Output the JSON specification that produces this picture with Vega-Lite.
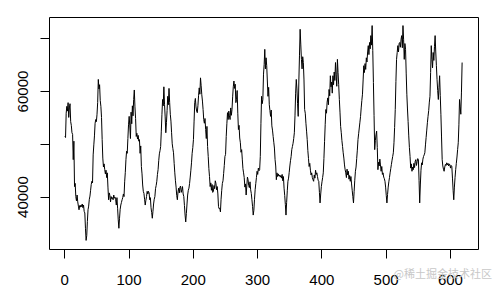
{
  "$schema": "https://vega.github.io/schema/vega-lite/v6.json",
  "width": 429,
  "height": 232,
  "autosize": {"type": "none"},
  "padding": {"left": 49, "top": 17, "right": 19, "bottom": 43},
  "background": "white",
  "config": {
    "view": {"stroke": "#000", "strokeWidth": 1},
    "axis": {"labelFont": "Liberation Sans", "labelFontSize": 15, "labelColor": "#000", "tickColor": "#000", "grid": false, "domain": false, "tickSize": 9, "tickWidth": 1, "title": null}
  },
  "title": {"text": "@稀土掘金技术社区", "orient": "bottom", "anchor": "end", "font": "Noto Sans CJK SC", "fontSize": 11, "fontWeight": "normal", "color": "#c8c8c8", "frame": "group", "dx": 14, "dy": -22},
  "data": {"values": [
{"t":1,"v":51400},{"t":2,"v":51200},{"t":3,"v":55800},{"t":4,"v":57100},{"t":5,"v":56200},{"t":6,"v":57800},{"t":7,"v":55000},{"t":8,"v":56800},{"t":9,"v":57600},{"t":10,"v":54200},
{"t":11,"v":53500},{"t":12,"v":52100},{"t":13,"v":51800},{"t":14,"v":47000},{"t":15,"v":50500},{"t":16,"v":41900},{"t":17,"v":42500},{"t":18,"v":40000},{"t":19,"v":39200},{"t":20,"v":40300},
{"t":21,"v":39000},{"t":22,"v":38200},{"t":23,"v":37500},{"t":24,"v":38300},{"t":25,"v":38000},{"t":26,"v":38400},{"t":27,"v":38100},{"t":28,"v":38600},{"t":29,"v":37900},{"t":30,"v":38400},
{"t":31,"v":37200},{"t":32,"v":36900},{"t":33,"v":34000},{"t":34,"v":31700},{"t":35,"v":32600},{"t":36,"v":35300},{"t":37,"v":37500},{"t":38,"v":38200},{"t":39,"v":39500},{"t":40,"v":40100},
{"t":41,"v":41200},{"t":42,"v":42300},{"t":43,"v":42900},{"t":44,"v":42600},{"t":45,"v":47900},{"t":46,"v":49800},{"t":47,"v":51500},{"t":48,"v":53900},{"t":49,"v":54600},{"t":50,"v":54200},
{"t":51,"v":55600},{"t":52,"v":57800},{"t":53,"v":62200},{"t":54,"v":60400},{"t":55,"v":61200},{"t":56,"v":58200},{"t":57,"v":57100},{"t":58,"v":55000},{"t":59,"v":50800},{"t":60,"v":47300},
{"t":61,"v":45600},{"t":62,"v":46200},{"t":63,"v":45100},{"t":64,"v":44300},{"t":65,"v":45000},{"t":66,"v":43600},{"t":67,"v":44500},{"t":68,"v":41800},{"t":69,"v":39400},{"t":70,"v":40700},
{"t":71,"v":40200},{"t":72,"v":39000},{"t":73,"v":40000},{"t":74,"v":39600},{"t":75,"v":39800},{"t":76,"v":39400},{"t":77,"v":40300},{"t":78,"v":39700},{"t":79,"v":39900},{"t":80,"v":39400},
{"t":81,"v":38400},{"t":82,"v":39800},{"t":83,"v":37800},{"t":84,"v":35600},{"t":85,"v":34000},{"t":86,"v":35900},{"t":87,"v":37600},{"t":88,"v":38400},{"t":89,"v":38900},{"t":90,"v":39400},
{"t":91,"v":39800},{"t":92,"v":40500},{"t":93,"v":40000},{"t":94,"v":42800},{"t":95,"v":44600},{"t":96,"v":47000},{"t":97,"v":48600},{"t":98,"v":48200},{"t":99,"v":51000},{"t":100,"v":53600},
{"t":101,"v":55200},{"t":102,"v":53400},{"t":103,"v":51000},{"t":104,"v":56000},{"t":105,"v":53800},{"t":106,"v":57200},{"t":107,"v":55300},{"t":108,"v":58400},{"t":109,"v":60200},{"t":110,"v":57000},
{"t":111,"v":54800},{"t":112,"v":51400},{"t":113,"v":52000},{"t":114,"v":50900},{"t":115,"v":51600},{"t":116,"v":50500},{"t":117,"v":50800},{"t":118,"v":48200},{"t":119,"v":49600},{"t":120,"v":45700},
{"t":121,"v":44300},{"t":122,"v":42200},{"t":123,"v":41000},{"t":124,"v":40600},{"t":125,"v":39500},{"t":126,"v":38400},{"t":127,"v":39300},{"t":128,"v":40000},{"t":129,"v":41000},{"t":130,"v":40500},
{"t":131,"v":41000},{"t":132,"v":40700},{"t":133,"v":39400},{"t":134,"v":39800},{"t":135,"v":37900},{"t":136,"v":37000},{"t":137,"v":35900},{"t":138,"v":37200},{"t":139,"v":38600},{"t":140,"v":39500},
{"t":141,"v":40000},{"t":142,"v":41500},{"t":143,"v":42100},{"t":144,"v":42900},{"t":145,"v":44200},{"t":146,"v":45100},{"t":147,"v":46800},{"t":148,"v":48100},{"t":149,"v":48700},{"t":150,"v":49500},
{"t":151,"v":52400},{"t":152,"v":55600},{"t":153,"v":58400},{"t":154,"v":57200},{"t":155,"v":60800},{"t":156,"v":57500},{"t":157,"v":55100},{"t":158,"v":52100},{"t":159,"v":54000},{"t":160,"v":56300},
{"t":161,"v":59000},{"t":162,"v":57400},{"t":163,"v":60500},{"t":164,"v":57800},{"t":165,"v":55600},{"t":166,"v":54300},{"t":167,"v":52100},{"t":168,"v":50000},{"t":169,"v":49100},{"t":170,"v":48300},
{"t":171,"v":46300},{"t":172,"v":44500},{"t":173,"v":43000},{"t":174,"v":41800},{"t":175,"v":40200},{"t":176,"v":39400},{"t":177,"v":40900},{"t":178,"v":41600},{"t":179,"v":40700},{"t":180,"v":41800},
{"t":181,"v":42000},{"t":182,"v":40800},{"t":183,"v":41300},{"t":184,"v":41900},{"t":185,"v":40500},{"t":186,"v":40000},{"t":187,"v":38300},{"t":188,"v":36500},{"t":189,"v":35200},{"t":190,"v":36800},
{"t":191,"v":38600},{"t":192,"v":40300},{"t":193,"v":41200},{"t":194,"v":41600},{"t":195,"v":42500},{"t":196,"v":43700},{"t":197,"v":45000},{"t":198,"v":46400},{"t":199,"v":48200},{"t":200,"v":49300},
{"t":201,"v":50800},{"t":202,"v":54300},{"t":203,"v":57800},{"t":204,"v":58600},{"t":205,"v":57000},{"t":206,"v":56200},{"t":207,"v":55900},{"t":208,"v":57300},{"t":209,"v":59200},{"t":210,"v":60600},
{"t":211,"v":59400},{"t":212,"v":62500},{"t":213,"v":61000},{"t":214,"v":59300},{"t":215,"v":58100},{"t":216,"v":56500},{"t":217,"v":54600},{"t":218,"v":53900},{"t":219,"v":54800},{"t":220,"v":52700},
{"t":221,"v":51000},{"t":222,"v":53300},{"t":223,"v":49500},{"t":224,"v":47600},{"t":225,"v":45300},{"t":226,"v":43800},{"t":227,"v":41900},{"t":228,"v":42600},{"t":229,"v":41200},{"t":230,"v":42300},
{"t":231,"v":40800},{"t":232,"v":41000},{"t":233,"v":42100},{"t":234,"v":41500},{"t":235,"v":43000},{"t":236,"v":42500},{"t":237,"v":41300},{"t":238,"v":41900},{"t":239,"v":40500},{"t":240,"v":38100},
{"t":241,"v":37700},{"t":242,"v":37800},{"t":243,"v":37100},{"t":244,"v":39500},{"t":245,"v":41200},{"t":246,"v":42500},{"t":247,"v":43000},{"t":248,"v":44400},{"t":249,"v":45900},{"t":250,"v":47600},
{"t":251,"v":48000},{"t":252,"v":51400},{"t":253,"v":53800},{"t":254,"v":55900},{"t":255,"v":54600},{"t":256,"v":56200},{"t":257,"v":55300},{"t":258,"v":54600},{"t":259,"v":56800},{"t":260,"v":55400},
{"t":261,"v":56500},{"t":262,"v":58900},{"t":263,"v":60800},{"t":264,"v":61900},{"t":265,"v":60500},{"t":266,"v":61300},{"t":267,"v":57800},{"t":268,"v":58400},{"t":269,"v":60100},{"t":270,"v":55800},
{"t":271,"v":52700},{"t":272,"v":53500},{"t":273,"v":51100},{"t":274,"v":50200},{"t":275,"v":48400},{"t":276,"v":48900},{"t":277,"v":47100},{"t":278,"v":45300},{"t":279,"v":44500},{"t":280,"v":43600},
{"t":281,"v":41800},{"t":282,"v":42400},{"t":283,"v":40300},{"t":284,"v":42000},{"t":285,"v":43700},{"t":286,"v":43200},{"t":287,"v":42100},{"t":288,"v":41700},{"t":289,"v":42800},{"t":290,"v":41300},
{"t":291,"v":40600},{"t":292,"v":39400},{"t":293,"v":38100},{"t":294,"v":36500},{"t":295,"v":37400},{"t":296,"v":39500},{"t":297,"v":41300},{"t":298,"v":42500},{"t":299,"v":43600},{"t":300,"v":44800},
{"t":301,"v":44200},{"t":302,"v":45400},{"t":303,"v":44900},{"t":304,"v":45100},{"t":305,"v":47600},{"t":306,"v":53800},{"t":307,"v":59000},{"t":308,"v":57600},{"t":309,"v":58400},{"t":310,"v":63200},
{"t":311,"v":65000},{"t":312,"v":67900},{"t":313,"v":64200},{"t":314,"v":66300},{"t":315,"v":64800},{"t":316,"v":61900},{"t":317,"v":59000},{"t":318,"v":60700},{"t":319,"v":57400},{"t":320,"v":56300},
{"t":321,"v":55200},{"t":322,"v":56400},{"t":323,"v":53400},{"t":324,"v":52600},{"t":325,"v":51400},{"t":326,"v":50300},{"t":327,"v":49200},{"t":328,"v":47000},{"t":329,"v":45800},{"t":330,"v":43200},
{"t":331,"v":44500},{"t":332,"v":43800},{"t":333,"v":44300},{"t":334,"v":43900},{"t":335,"v":44100},{"t":336,"v":43700},{"t":337,"v":44000},{"t":338,"v":43500},{"t":339,"v":44200},{"t":340,"v":43000},
{"t":341,"v":43800},{"t":342,"v":41600},{"t":343,"v":40200},{"t":344,"v":38500},{"t":345,"v":36500},{"t":346,"v":38900},{"t":347,"v":41100},{"t":348,"v":42900},{"t":349,"v":43500},{"t":350,"v":44600},
{"t":351,"v":45800},{"t":352,"v":46800},{"t":353,"v":47600},{"t":354,"v":48900},{"t":355,"v":49500},{"t":356,"v":50100},{"t":357,"v":51000},{"t":358,"v":52100},{"t":359,"v":55300},{"t":360,"v":59600},
{"t":361,"v":62200},{"t":362,"v":60400},{"t":363,"v":57600},{"t":364,"v":55200},{"t":365,"v":61900},{"t":366,"v":66800},{"t":367,"v":71700},{"t":368,"v":68900},{"t":369,"v":66000},{"t":370,"v":64200},
{"t":371,"v":66500},{"t":372,"v":65400},{"t":373,"v":62100},{"t":374,"v":56500},{"t":375,"v":55800},{"t":376,"v":53900},{"t":377,"v":52400},{"t":378,"v":50800},{"t":379,"v":48700},{"t":380,"v":47200},
{"t":381,"v":45700},{"t":382,"v":46300},{"t":383,"v":45000},{"t":384,"v":44100},{"t":385,"v":44500},{"t":386,"v":43600},{"t":387,"v":43200},{"t":388,"v":42900},{"t":389,"v":44100},{"t":390,"v":43500},
{"t":391,"v":45000},{"t":392,"v":44200},{"t":393,"v":44500},{"t":394,"v":43800},{"t":395,"v":43100},{"t":396,"v":42900},{"t":397,"v":40800},{"t":398,"v":38800},{"t":399,"v":40500},{"t":400,"v":41900},
{"t":401,"v":42800},{"t":402,"v":43600},{"t":403,"v":44500},{"t":404,"v":47200},{"t":405,"v":50400},{"t":406,"v":53700},{"t":407,"v":56500},{"t":408,"v":55800},{"t":409,"v":57900},{"t":410,"v":58700},
{"t":411,"v":57400},{"t":412,"v":60300},{"t":413,"v":59100},{"t":414,"v":62900},{"t":415,"v":60800},{"t":416,"v":61700},{"t":417,"v":59600},{"t":418,"v":62900},{"t":419,"v":61200},{"t":420,"v":63600},
{"t":421,"v":62000},{"t":422,"v":65400},{"t":423,"v":63100},{"t":424,"v":60900},{"t":425,"v":66000},{"t":426,"v":63500},{"t":427,"v":61200},{"t":428,"v":58400},{"t":429,"v":56000},{"t":430,"v":53300},
{"t":431,"v":52100},{"t":432,"v":50600},{"t":433,"v":49500},{"t":434,"v":48300},{"t":435,"v":47300},{"t":436,"v":46000},{"t":437,"v":45100},{"t":438,"v":44500},{"t":439,"v":43600},{"t":440,"v":45200},
{"t":441,"v":44100},{"t":442,"v":44800},{"t":443,"v":43300},{"t":444,"v":44000},{"t":445,"v":42900},{"t":446,"v":43800},{"t":447,"v":42400},{"t":448,"v":41200},{"t":449,"v":40000},{"t":450,"v":38800},
{"t":451,"v":41000},{"t":452,"v":43100},{"t":453,"v":44800},{"t":454,"v":45600},{"t":455,"v":47200},{"t":456,"v":48800},{"t":457,"v":50800},{"t":458,"v":51900},{"t":459,"v":53000},{"t":460,"v":54100},
{"t":461,"v":55200},{"t":462,"v":56800},{"t":463,"v":58200},{"t":464,"v":59400},{"t":465,"v":62100},{"t":466,"v":64800},{"t":467,"v":63500},{"t":468,"v":65200},{"t":469,"v":64100},{"t":470,"v":66300},
{"t":471,"v":65500},{"t":472,"v":67400},{"t":473,"v":68600},{"t":474,"v":66900},{"t":475,"v":69200},{"t":476,"v":68000},{"t":477,"v":70500},{"t":478,"v":68700},{"t":479,"v":72400},{"t":480,"v":67700},
{"t":481,"v":61600},{"t":482,"v":55400},{"t":483,"v":48900},{"t":484,"v":50600},{"t":485,"v":51700},{"t":486,"v":52400},{"t":487,"v":49300},{"t":488,"v":45100},{"t":489,"v":46500},{"t":490,"v":45800},
{"t":491,"v":47100},{"t":492,"v":46000},{"t":493,"v":44800},{"t":494,"v":45700},{"t":495,"v":44200},{"t":496,"v":44500},{"t":497,"v":43700},{"t":498,"v":43400},{"t":499,"v":42900},{"t":500,"v":41800},
{"t":501,"v":40200},{"t":502,"v":38800},{"t":503,"v":40400},{"t":504,"v":41800},{"t":505,"v":42800},{"t":506,"v":43600},{"t":507,"v":44500},{"t":508,"v":45300},{"t":509,"v":46100},{"t":510,"v":46900},
{"t":511,"v":47600},{"t":512,"v":48300},{"t":513,"v":50200},{"t":514,"v":53100},{"t":515,"v":56500},{"t":516,"v":61800},{"t":517,"v":66000},{"t":518,"v":67300},{"t":519,"v":68600},{"t":520,"v":67400},
{"t":521,"v":69000},{"t":522,"v":69200},{"t":523,"v":68300},{"t":524,"v":69800},{"t":525,"v":70500},{"t":526,"v":68200},{"t":527,"v":72400},{"t":528,"v":69700},{"t":529,"v":66000},{"t":530,"v":69000},
{"t":531,"v":67900},{"t":532,"v":63400},{"t":533,"v":59400},{"t":534,"v":56600},{"t":535,"v":54200},{"t":536,"v":51500},{"t":537,"v":49300},{"t":538,"v":47600},{"t":539,"v":45400},{"t":540,"v":46200},
{"t":541,"v":44800},{"t":542,"v":45600},{"t":543,"v":45100},{"t":544,"v":46300},{"t":545,"v":45500},{"t":546,"v":46700},{"t":547,"v":47000},{"t":548,"v":45900},{"t":549,"v":46600},{"t":550,"v":47200},
{"t":551,"v":47000},{"t":552,"v":43100},{"t":553,"v":38800},{"t":554,"v":42200},{"t":555,"v":45000},{"t":556,"v":46400},{"t":557,"v":46000},{"t":558,"v":47100},{"t":559,"v":47600},{"t":560,"v":47900},
{"t":561,"v":48300},{"t":562,"v":49800},{"t":563,"v":51200},{"t":564,"v":52600},{"t":565,"v":54000},{"t":566,"v":55200},{"t":567,"v":56300},{"t":568,"v":57900},{"t":569,"v":59000},{"t":570,"v":63500},
{"t":571,"v":68600},{"t":572,"v":66000},{"t":573,"v":64400},{"t":574,"v":67300},{"t":575,"v":65800},{"t":576,"v":68400},{"t":577,"v":70500},{"t":578,"v":67400},{"t":579,"v":64800},{"t":580,"v":62200},
{"t":581,"v":60100},{"t":582,"v":58400},{"t":583,"v":60700},{"t":584,"v":62900},{"t":585,"v":59200},{"t":586,"v":55600},{"t":587,"v":51300},{"t":588,"v":47000},{"t":589,"v":45800},{"t":590,"v":45200},
{"t":591,"v":44800},{"t":592,"v":45600},{"t":593,"v":46100},{"t":594,"v":45900},{"t":595,"v":46400},{"t":596,"v":46000},{"t":597,"v":46300},{"t":598,"v":45800},{"t":599,"v":46200},{"t":600,"v":46000},
{"t":601,"v":45400},{"t":602,"v":45900},{"t":603,"v":45700},{"t":604,"v":43500},{"t":605,"v":41200},{"t":606,"v":39400},{"t":607,"v":41800},{"t":608,"v":43600},{"t":609,"v":45100},{"t":610,"v":46300},
{"t":611,"v":47500},{"t":612,"v":48900},{"t":613,"v":50200},{"t":614,"v":53600},{"t":615,"v":58400},{"t":616,"v":57000},{"t":617,"v":55600},{"t":618,"v":59800},{"t":619,"v":65400}
  ]},
  "mark": {"type": "line", "color": "#000", "strokeWidth": 1, "interpolate": "linear"},
  "encoding": {
    "x": {"field": "t", "type": "quantitative", "scale": {"domain": [-23.72, 643.72], "nice": false, "zero": false},
      "axis": {"values": [0, 100, 200, 300, 400, 500, 600], "labelBaseline": "alphabetic", "labelPadding": 26, "labelFlush": false, "labelOverlap": false}},
    "y": {"field": "v", "type": "quantitative", "scale": {"domain": [30072, 74028], "nice": false, "zero": false},
      "axis": {"values": [40000, 50000, 60000, 70000], "labelExpr": "datum.value == 40000 || datum.value == 60000 ? format(datum.value, 'd') : ''", "labelAngle": 270, "labelAlign": "center", "labelBaseline": "alphabetic", "labelPadding": 13, "labelFlush": false, "labelOverlap": false}}
  }
}
